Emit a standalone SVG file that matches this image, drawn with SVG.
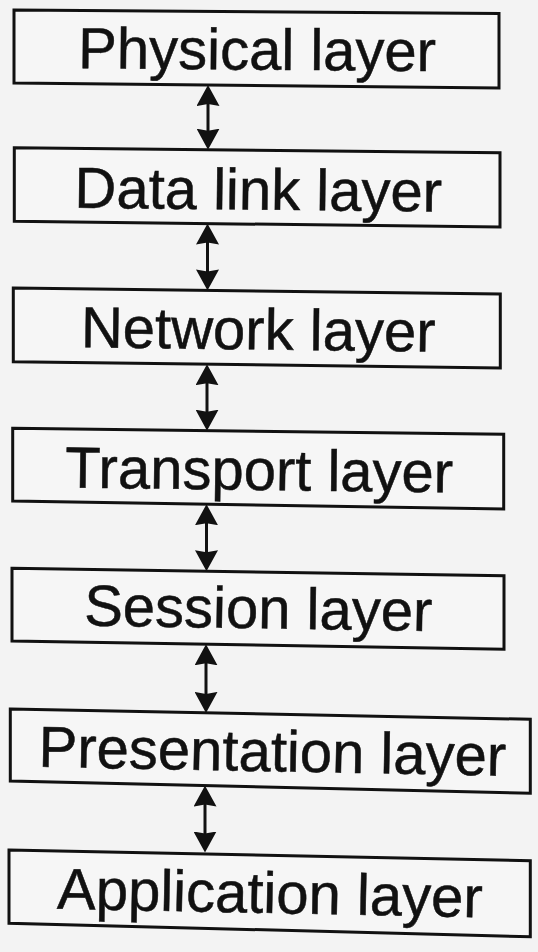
<svg xmlns="http://www.w3.org/2000/svg" width="538" height="952" viewBox="0 0 538 952">
<style>
.bg{fill:#f3f3f3}
.box{fill:#f6f6f6;stroke:#111;stroke-width:3;stroke-linejoin:miter}
.lbl{font-family:"Liberation Sans",Arial,sans-serif;font-size:58px;fill:#111;stroke:#111;stroke-width:0.5;text-anchor:middle}
.conn{stroke:#111;stroke-width:3;fill:none;marker-start:url(#ah);marker-end:url(#ah)}
</style>
<defs>
<marker id="ah" markerUnits="userSpaceOnUse" markerWidth="21" markerHeight="23" viewBox="0 0 21 23" refX="10" refY="11.5" orient="auto-start-reverse">
<path d="M0,0 L21,11.5 L0,23 L2,11.5 z" fill="#111"/>
</marker>
</defs>
<rect class="bg" x="0" y="0" width="538" height="952"/>
<g id="physical">
<polygon class="box" points="14,10 499,13.5 499,88 14,83"/>
<text class="lbl" x="257" y="69.7" transform="rotate(0.45 257 69.7)">Physical layer</text>
</g>
<g id="datalink">
<polygon class="box" points="14.3,147.7 500,152.7 500,227 14.3,221.3"/>
<text class="lbl" x="258" y="209.7" transform="rotate(0.6 258 209.7)">Data link layer</text>
</g>
<g id="network">
<polygon class="box" points="13.3,288 500.3,294 500.3,368 13.3,361.7"/>
<text class="lbl" x="258" y="349.5" transform="rotate(0.7 258 349.5)">Network layer</text>
</g>
<g id="transport">
<polygon class="box" points="12.7,428.3 503.7,434.3 503.7,509 12.7,501"/>
<text class="lbl" x="259" y="490" transform="rotate(0.75 259 490)">Transport layer</text>
</g>
<g id="session">
<polygon class="box" points="12,568.3 504,575.7 504,649.3 12,641"/>
<text class="lbl" x="258" y="628.3" transform="rotate(0.9 258 628.3)">Session layer</text>
</g>
<g id="presentation">
<polygon class="box" points="10.3,709 530.3,719.3 530.3,793.3 10.3,781"/>
<text class="lbl" x="272" y="771.3" transform="rotate(1.1 272 771.3)">Presentation layer</text>
</g>
<g id="application">
<polygon class="box" points="9,850 530.3,860.7 530.3,936.7 9,923.3"/>
<text class="lbl" x="269.5" y="913" transform="rotate(1.15 269.5 913)">Application layer</text>
</g>
<g id="connectors">
<path class="conn" d="M208,96 L208,138.7"/>
<path class="conn" d="M207.5,234.6 L207.5,279.4"/>
<path class="conn" d="M207,375.2 L207,419.7"/>
<path class="conn" d="M206.5,515.2 L206.5,560.2"/>
<path class="conn" d="M206,655.3 L206,701.9"/>
<path class="conn" d="M205,796.6 L205,841.5"/>
</g>
</svg>
